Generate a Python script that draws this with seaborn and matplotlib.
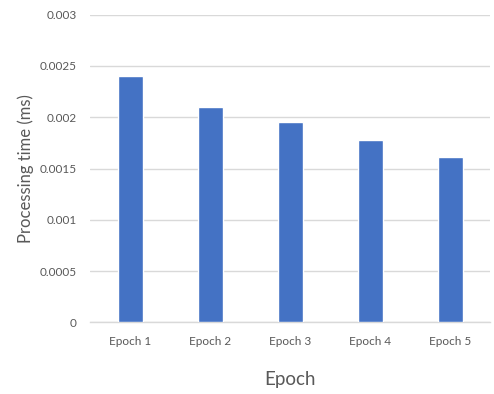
import matplotlib
matplotlib.use("Agg")
import matplotlib.pyplot as plt
import seaborn as sns
import pandas as pd

epochs = ["Epoch 1", "Epoch 2", "Epoch 3", "Epoch 4", "Epoch 5"]
times = [0.0024, 0.0021, 0.00195, 0.00178, 0.00161]
yticks = [0, 0.0005, 0.001, 0.0015, 0.002, 0.0025, 0.003]
ytick_labels = ["0", "0.0005", "0.001", "0.0015", "0.002", "0.0025", "0.003"]

sns.set_theme(style="white")
plt.rcParams['font.family'] = ['Lato', 'DejaVu Sans']

df = pd.DataFrame({"epoch": epochs, "time": times})

fig = plt.figure(figsize=(4.94, 3.94), dpi=100)
ax = fig.add_axes([90/494, 1 - 322.3/394, 400/494, (322.3 - 14.7)/394])

sns.barplot(data=df, x="epoch", y="time", color="#4472C4", saturation=1,
            width=0.3125, ax=ax, zorder=3)

ax.set_ylim(0, 0.003)
ax.set_xlim(-0.5, 4.5)
ax.set_yticks(yticks)
ax.set_yticklabels(ytick_labels)
ax.yaxis.grid(True, color="#D9D9D9", linewidth=1)
ax.set_axisbelow(True)
for s in ["top", "right", "left"]:
    ax.spines[s].set_visible(False)
ax.spines["bottom"].set_color("#D9D9D9")
ax.spines["bottom"].set_linewidth(1)
ax.tick_params(axis="both", length=0, labelsize=8.5, colors="#595959")
ax.tick_params(axis="x", pad=10)
ax.tick_params(axis="y", pad=9.4)
ax.set_xlabel("Epoch", fontsize=13.5, color="#595959", labelpad=17.5)
ax.set_ylabel("Processing time (ms)", fontsize=12, color="#595959", labelpad=4)

fig.savefig("out.png", dpi=100)
